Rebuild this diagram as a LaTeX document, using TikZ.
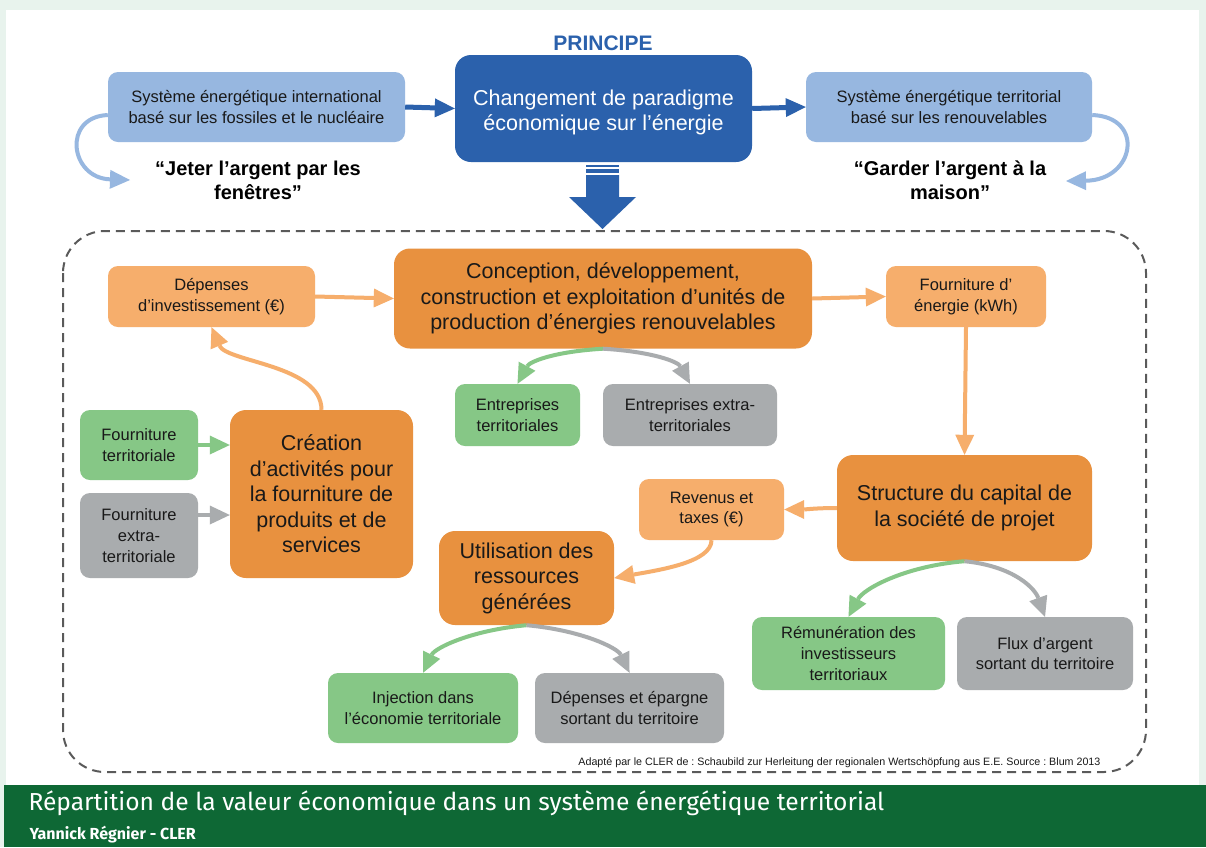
\documentclass[tikz,border=0pt]{standalone}
\usepackage{fontspec}
\usepackage{xcolor}
\setmainfont{Liberation Sans}
\newfontfamily\bannerfont{Fira Sans}
\usetikzlibrary{arrows.meta}
\frenchspacing

\definecolor{paleback}{RGB}{232,243,237}
\definecolor{banner}{RGB}{14,104,53}
\definecolor{deepblue}{RGB}{43,97,172}
\definecolor{skyblue}{RGB}{151,183,224}
\definecolor{deeporange}{RGB}{232,145,63}
\definecolor{paleorange}{RGB}{246,174,108}
\definecolor{leafgreen}{RGB}{134,199,134}
\definecolor{stonegray}{RGB}{169,172,174}
\definecolor{dashgray}{RGB}{90,90,90}
\definecolor{ink}{RGB}{25,25,25}

\begin{document}
\begin{tikzpicture}[x=1pt,y=-1pt,
    bigtip/.style={-{Triangle[length=20pt,width=19pt,line width=0pt]}},
    box/.style={rounded corners=10pt,align=center,inner sep=0pt,text=ink},
    sz/.style 2 args={minimum width=#1pt,minimum height=#2pt},
    small box/.style={box,font=\fontsize{16.5}{20.7}\selectfont},
    big box/.style={box,rounded corners=16pt,font=\fontsize{21.5}{25.5}\selectfont},
    quote/.style={align=center,text=black,font=\bfseries\fontsize{20}{24}\selectfont},
    topflow/.style={bigtip,line width=5pt,draw=deepblue},
    loopflow/.style={bigtip,line width=4pt,draw=skyblue},
    flow/.style={bigtip,line width=4pt,draw=paleorange},
    greenflow/.style={bigtip,line width=4pt,draw=leafgreen},
    grayflow/.style={bigtip,line width=4pt,draw=stonegray}]

  % background and banner
  \fill[paleback] (0,0) rectangle (1206,847);
  \fill[white] (6,10) rectangle (1199,785);
  \fill[banner] (4,785) rectangle (1206,847);
  \useasboundingbox (0,0) rectangle (1206,847);

  % principe
  \node[font=\bfseries\fontsize{21}{24}\selectfont,text=deepblue] (principe) at (603,43) {PRINCIPE};
  \node[big box,fill=deepblue,text=white,sz={297}{107}] (paradigme) at (603.5,108.5)
        {\raisebox{-4pt}[\height][\depth]{\parbox{280pt}{\centering Changement de paradigme\\économique sur l’énergie}}};
  \node[small box,fill=skyblue,sz={297}{70}] (intl) at (256.5,107) {Système énergétique international\\basé sur les fossiles et le nucléaire};
  \node[small box,fill=skyblue,sz={286}{70}] (terr) at (949,107) {Système énergétique territorial\\basé sur les renouvelables};
  \node[quote] (jeter) at (258,180) {“Jeter l’argent par les\\fenêtres”};
  \node[quote] (garder) at (950,180) {“Garder l’argent à la\\maison”};
  \coordinate (jeterend) at (130,180);
  \coordinate (garderend) at (1066,181);

  \path
	(intl.east) edge[topflow] (paradigme.west)
	(paradigme.east) edge[topflow] (terr.west);
  \draw[loopflow] ([yshift=-8pt]intl.west) .. controls +(-46,2) and +(-60,-2) .. (jeterend);
  \draw[loopflow] ([yshift=-8pt]terr.east) .. controls +(53,2) and +(69,-1) .. (garderend);

  % big arrow down
  \fill[deepblue] (586,165) rectangle (619,167);
  \fill[deepblue] (586,169) rectangle (619,173);
  \fill[deepblue] (586,175) -- (619,175) -- (619,197) -- (636,197) -- (602.5,229)
        -- (569,197) -- (586,197) -- cycle;

  % territory frame
  \draw[dashgray,line width=2pt,dash pattern=on 9pt off 6pt,rounded corners=42pt]
        (63,231) rectangle (1146,772);

  \node[small box,fill=paleorange,sz={207}{61}] (invest) at (211.5,296.5) {Dépenses\\d’investissement (€)};
  \node[big box,fill=deeporange,sz={418}{100}] (concept) at (603,298.5) {Conception, développement,\\construction et exploitation d’unités de\\production d’énergies renouvelables};
  \node[small box,fill=paleorange,sz={160}{61}] (energy) at (966,296.5) {Fourniture d’\\énergie (kWh)};
  \node[small box,fill=leafgreen,sz={125}{62}] (entter) at (517.5,415) {Entreprises\\territoriales};
  \node[small box,fill=stonegray,sz={174}{62}] (entext) at (690,415) {Entreprises extra-\\territoriales};
  \node[small box,fill=leafgreen,sz={118}{70}] (fterr) at (139,445) {Fourniture\\territoriale};
  \node[small box,fill=stonegray,sz={118}{85}] (fext) at (139,535.5) {Fourniture\\extra-\\territoriale};
  \node[big box,fill=deeporange,sz={183}{168}] (creation) at (321.5,494) {Création\\d’activités pour\\la fourniture de\\produits et de\\services};
  \node[big box,fill=deeporange,sz={255}{106}] (capital) at (964.5,508) {Structure du capital de\\la société de projet};
  \node[small box,fill=paleorange,sz={145}{61}] (revenus) at (711.5,509.5) {Revenus et\\taxes (€)};
  \node[big box,fill=deeporange,sz={175}{94}] (usage) at (526.5,578) {Utilisation des\\ressources\\générées};
  \node[small box,fill=leafgreen,sz={193}{73}] (remun) at (848.5,653.5) {Rémunération des\\investisseurs\\territoriaux};
  \node[small box,fill=stonegray,sz={176}{73}] (flux) at (1045,653.5) {Flux d’argent\\sortant du territoire};
  \node[small box,fill=leafgreen,sz={190}{70}] (inject) at (423,708) {Injection dans\\l’économie territoriale};
  \node[small box,fill=stonegray,sz={189}{70}] (depep) at (629.5,708) {Dépenses et épargne\\sortant du territoire};

  \node[font=\fontsize{10.7}{12}\selectfont,anchor=east,text=ink] (source) at (1104,763)
        {Adapté par le CLER de : Schaubild zur Herleitung der regionalen Wertschöpfung aus E.E. Source : Blum 2013};

  \coordinate (fextout) at ([yshift=20.5pt]fext.east);

  \path
	(invest.east) edge[flow] (concept.west)
	(concept.east) edge[flow] (energy.west)
	(energy.south) edge[flow] (capital.north);
  \draw[flow] (capital.west) .. controls +(-20,0) and +(20,0) .. (revenus.east);
  \draw[flow] (creation.north) .. controls +(0,-45) and +(15,35) .. (invest.south);
  \draw[flow] (revenus.south) .. controls +(0,22) and +(45,-8) .. (usage.east);

  \path (fterr.east) edge[greenflow] (fterr.east -| creation.west);
  \path (fextout) edge[grayflow] (fextout -| creation.west);

  \draw[greenflow] (concept.south) .. controls +(-50,3) and +(12,-22) .. (entter.north);
  \draw[grayflow] (concept.south) .. controls +(50,3) and +(-12,-22) .. (entext.north);
  \draw[greenflow] (capital.south) .. controls +(-60,5) and +(15,-28) .. (remun.north);
  \draw[grayflow] (capital.south) .. controls +(50,5) and +(-10,-28) .. (flux.north);
  \draw[greenflow] (usage.south) .. controls +(-55,5) and +(12,-25) .. (inject.north);
  \draw[grayflow] (usage.south) .. controls +(55,5) and +(-12,-25) .. (depep.north);

  % banner text
  \node[anchor=base west,text=white,font=\bannerfont\fontsize{24.6}{28}\selectfont] (titre) at (25,810)
        {Répartition de la valeur économique dans un système énergétique territorial};
  \node[anchor=base west,text=white,font=\bannerfont\bfseries\fontsize{16}{18}\selectfont] (auteur) at (26,839)
        {Yannick Régnier - CLER};
\end{tikzpicture}
\end{document}
